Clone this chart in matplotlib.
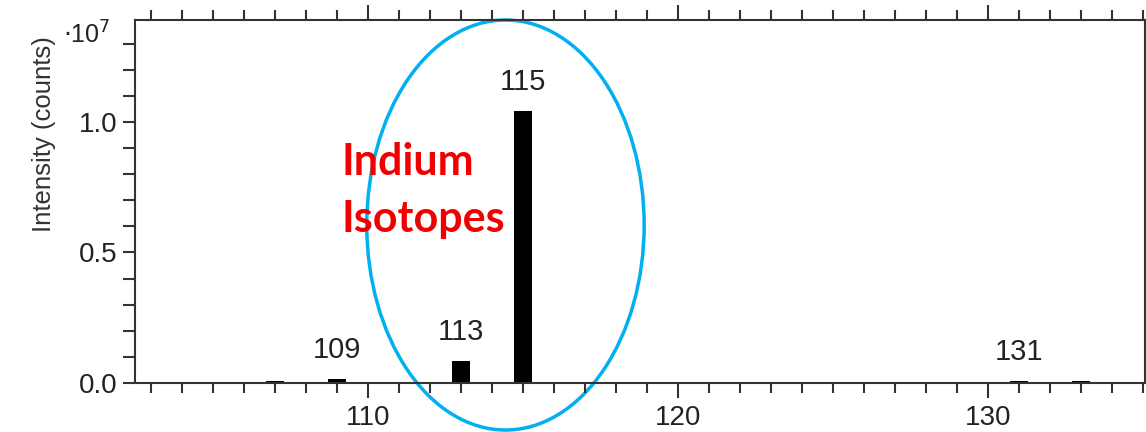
import matplotlib.pyplot as plt
import matplotlib.ticker
from matplotlib.patches import Ellipse

# isotope masses and intensities (x 1e7 counts)
masses = [107, 109, 113, 115, 131, 133]
intensity = [0.006, 0.015, 0.085, 1.04, 0.007, 0.006]
labelled = [109, 113, 115, 131]

plt.rcParams['font.family'] = ['Liberation Sans', 'DejaVu Sans']
plt.rcParams['axes.linewidth'] = 1.5

fig = plt.figure(figsize=(11.46, 4.32), dpi=100)
ax = fig.add_axes([0.1178, 0.1134, 0.8813, 0.8403])

ax.bar(masses, intensity, width=0.58, color='black')

for m, h in zip(masses, intensity):
    if m in labelled:
        ax.annotate(str(m), (m, h), xytext=(0, 11), textcoords='offset points',
                    ha='center', va='bottom', fontsize=21, color='#222222')

ax.set_xlim(102.5, 135.05)
ax.set_ylim(0, 1.39)
ax.xaxis.set_major_locator(matplotlib.ticker.MultipleLocator(10))
ax.xaxis.set_minor_locator(matplotlib.ticker.MultipleLocator(1))
ax.yaxis.set_major_locator(matplotlib.ticker.MultipleLocator(0.5))
ax.yaxis.set_minor_locator(matplotlib.ticker.MultipleLocator(0.1))
ax.yaxis.set_major_formatter(matplotlib.ticker.FormatStrFormatter('%.1f'))

ax.tick_params(axis='both', which='both', direction='out', color='#333333', width=1.5,
               labelsize=20, labelcolor='#222222')
ax.tick_params(axis='x', which='major', length=11, top=True, pad=5)
ax.tick_params(axis='x', which='minor', length=7, top=True)
ax.tick_params(axis='y', which='both', length=9)
for s in ax.spines.values():
    s.set_color('#333333')

ax.set_ylabel('Intensity (counts)', fontsize=18.5, color='#333333')
ax.yaxis.set_label_coords(-0.078, 0.686)
fig.text(0.055, 0.918, r'$\cdot$10$^{7}$', fontsize=18, color='#222222', ha='left', va='center')

# highlight of the indium isotopes
ell = Ellipse((114.44, 0.605), 8.94, 1.57, fill=False, edgecolor='#00b0f0',
              linewidth=2.5, clip_on=False)
ax.add_patch(ell)
red_font = dict(fontsize=31, fontweight='bold', color='#f00000', ha='left',
                va='baseline', family=['Lato', 'DejaVu Sans'])
ax.text(109.15, 0.797, 'Indium', **red_font)
ax.text(109.15, 0.58, 'Isotopes', **red_font)

plt.savefig('out.png', dpi=100)
